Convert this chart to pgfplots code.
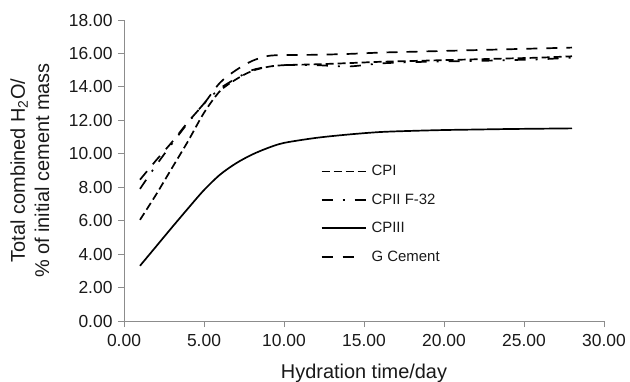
\documentclass[border=0pt]{standalone}
\usepackage{fontspec}
\setmainfont{Liberation Sans}
\usepackage{pgfplots}
\pgfplotsset{compat=1.18}
\pgfplotsset{
  aleg/.style={legend image code/.code={\draw[black,line width=1.8bp,dash pattern=on 8bp off 4bp] (0bp,0bp) -- (44bp,0bp);}},
  bleg/.style={legend image code/.code={\draw[black,line width=1.8bp,dash pattern=on 11bp off 10bp on 2bp off 10bp] (0bp,0bp) -- (44bp,0bp);}},
  cleg/.style={legend image code/.code={\draw[black,line width=1.8bp] (0bp,0bp) -- (44bp,0bp);}},
  gleg/.style={legend image code/.code={\draw[black,line width=1.8bp,dash pattern=on 11bp off 10bp] (0bp,0bp) -- (33bp,0bp); \path (44bp,0bp);}},
}
\begin{document}
\begin{tikzpicture}
\begin{axis}[
  name=ax,
  scale only axis,
  width=480bp, height=301bp,
  xmin=0, xmax=30, ymin=0, ymax=18,
  xtick={0,5,...,30}, ytick={0,2,...,18},
  axis lines*=left,
  axis line style={draw=gray!90, line width=0.9bp},
  tick style={draw=gray!90, line width=0.9bp},
  tick align=outside,
  major tick length=6bp,
  xtick pos=left, ytick pos=left,
  /pgf/number format/assume math mode=true,
  /pgf/number format/.cd, fixed, fixed zerofill, precision=2, /pgfplots/.cd,
  ticklabel style={font=\fontsize{17.5}{20}\selectfont, text=black!90},
  xticklabel style={yshift=-4bp},
  yticklabel style={xshift=-2bp},
  xlabel={Hydration time/day},
  ylabel={Total combined H\textsubscript{2}O/\\\% of initial cement mass},
  xlabel style={font=\fontsize{20}{24}\selectfont, text=black!90, at={(axis description cs:0.5,0)}, anchor=base, yshift=-57bp},
  ylabel style={font=\fontsize{20}{24.5}\selectfont, text=black!90, align=center, at={(axis description cs:-0.196,0.5)}, anchor=center},
  legend style={draw=none, fill=none, at={(axis cs:12.1,9.55)}, anchor=north west, font=\fontsize{15}{17}\selectfont, row sep=12.5bp, text=black!90, /tikz/every odd column/.append style={column sep=3bp}},
  legend cell align=left,
]
\addplot[black, line width=1.7bp, dash pattern=on 8bp off 4bp, smooth, tension=0.5, aleg] coordinates {
(1,6.05) (2,7.55) (3,9.15) (4,10.75) (5,12.45) (6,13.75) (7,14.45) (8,14.95) (9,15.2) (10,15.3) (12,15.35) (14,15.42) (16,15.5) (18,15.55) (20,15.6) (22,15.65) (24,15.7) (26,15.75) (28,15.83)
};
\addlegendentry{CPI}
\addplot[black, line width=1.7bp, dash pattern=on 11bp off 10bp on 2bp off 10bp, smooth, tension=0.5, bleg] coordinates {
(1,7.9) (2,9.3) (3,10.6) (4,11.85) (5,13.0) (6,13.9) (7,14.5) (8,15.0) (9,15.2) (10,15.3) (12,15.3) (14,15.22) (16,15.4) (18,15.48) (20,15.52) (22,15.55) (24,15.6) (26,15.65) (28,15.75)
};
\addlegendentry{CPII F-32}
\addplot[black, line width=1.7bp, smooth, tension=0.5, cleg] coordinates {
(1,3.3) (2,4.45) (3,5.6) (4,6.73) (5,7.83) (6,8.75) (7,9.43) (8,9.95) (9,10.35) (10,10.65) (12,10.95) (14,11.15) (16,11.3) (18,11.37) (20,11.42) (22,11.45) (24,11.48) (26,11.5) (28,11.52)
};
\addlegendentry{CPIII}
\addplot[black, line width=1.7bp, dash pattern=on 11bp off 9bp, smooth, tension=0.5, gleg] coordinates {
(1,8.45) (2,9.6) (3,10.7) (4,11.9) (5,13.0) (6,14.25) (7,15.0) (8,15.55) (9,15.85) (10,15.9) (12,15.92) (14,15.97) (16,16.05) (18,16.1) (20,16.15) (22,16.2) (24,16.25) (26,16.3) (28,16.35)
};
\addlegendentry{G Cement}
\end{axis}
\pgfresetboundingbox
\path ([xshift=-124bp,yshift=-61bp]ax.south west) rectangle ([xshift=26bp,yshift=20bp]ax.north east);
\end{tikzpicture}
\end{document}
